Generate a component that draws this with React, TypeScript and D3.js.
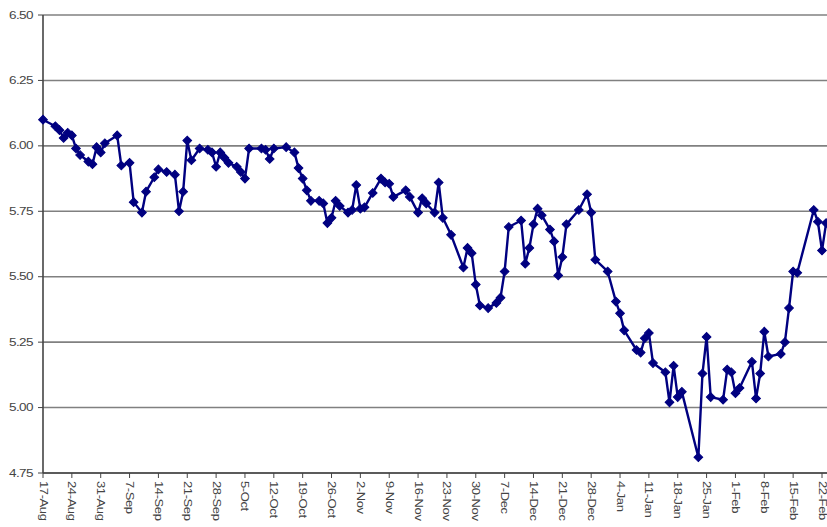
import React from "react";
import * as d3 from "d3";

// Daily observations (date, value)
const dates: string[] = [
  "2007-08-17", "2007-08-20", "2007-08-21", "2007-08-22", "2007-08-23", "2007-08-24", "2007-08-25", "2007-08-26",
  "2007-08-28", "2007-08-29", "2007-08-30", "2007-08-31", "2007-09-01", "2007-09-04", "2007-09-05", "2007-09-07",
  "2007-09-08", "2007-09-10", "2007-09-11", "2007-09-13", "2007-09-14", "2007-09-16", "2007-09-18", "2007-09-19",
  "2007-09-20", "2007-09-21", "2007-09-22", "2007-09-24", "2007-09-26", "2007-09-27", "2007-09-28", "2007-09-29",
  "2007-09-30", "2007-10-01", "2007-10-03", "2007-10-04", "2007-10-05", "2007-10-06", "2007-10-09", "2007-10-10",
  "2007-10-11", "2007-10-12", "2007-10-15", "2007-10-17", "2007-10-18", "2007-10-19", "2007-10-20", "2007-10-21",
  "2007-10-23", "2007-10-24", "2007-10-25", "2007-10-26", "2007-10-27", "2007-10-28", "2007-10-30", "2007-10-31",
  "2007-11-01", "2007-11-02", "2007-11-03", "2007-11-05", "2007-11-07", "2007-11-08", "2007-11-09", "2007-11-10",
  "2007-11-13", "2007-11-14", "2007-11-16", "2007-11-17", "2007-11-18", "2007-11-20", "2007-11-21", "2007-11-22",
  "2007-11-24", "2007-11-27", "2007-11-28", "2007-11-29", "2007-11-30", "2007-12-01", "2007-12-03", "2007-12-05",
  "2007-12-06", "2007-12-07", "2007-12-08", "2007-12-11", "2007-12-12", "2007-12-13", "2007-12-14", "2007-12-15",
  "2007-12-16", "2007-12-18", "2007-12-19", "2007-12-20", "2007-12-21", "2007-12-22", "2007-12-25", "2007-12-27",
  "2007-12-28", "2007-12-29", "2008-01-01", "2008-01-03", "2008-01-04", "2008-01-05", "2008-01-08", "2008-01-09",
  "2008-01-10", "2008-01-11", "2008-01-12", "2008-01-15", "2008-01-16", "2008-01-17", "2008-01-18", "2008-01-19",
  "2008-01-23", "2008-01-24", "2008-01-25", "2008-01-26", "2008-01-29", "2008-01-30", "2008-01-31", "2008-02-01",
  "2008-02-02", "2008-02-05", "2008-02-06", "2008-02-07", "2008-02-08", "2008-02-09", "2008-02-12", "2008-02-13",
  "2008-02-14", "2008-02-15", "2008-02-16", "2008-02-20", "2008-02-21", "2008-02-22", "2008-02-23",
];

const values: number[] = [
  6.10, 6.075, 6.06, 6.03, 6.05, 6.04, 5.99, 5.965,
  5.94, 5.93, 5.995, 5.975, 6.01, 6.04, 5.925, 5.935,
  5.785, 5.745, 5.825, 5.88, 5.91, 5.90, 5.89, 5.75,
  5.825, 6.02, 5.945, 5.99, 5.985, 5.975, 5.92, 5.975,
  5.955, 5.935, 5.92, 5.90, 5.875, 5.99, 5.99, 5.985,
  5.95, 5.99, 5.995, 5.975, 5.915, 5.875, 5.83, 5.79,
  5.79, 5.78, 5.705, 5.725, 5.79, 5.77, 5.745, 5.755,
  5.85, 5.76, 5.765, 5.82, 5.875, 5.86, 5.855, 5.805,
  5.83, 5.805, 5.745, 5.80, 5.78, 5.745, 5.86, 5.725,
  5.66, 5.535, 5.61, 5.59, 5.47, 5.39, 5.38, 5.40,
  5.42, 5.52, 5.69, 5.715, 5.55, 5.61, 5.70, 5.76,
  5.735, 5.68, 5.635, 5.505, 5.575, 5.70, 5.755, 5.815,
  5.745, 5.565, 5.52, 5.405, 5.36, 5.295, 5.22, 5.21,
  5.265, 5.285, 5.17, 5.135, 5.02, 5.16, 5.04, 5.06,
  4.81, 5.13, 5.27, 5.04, 5.03, 5.145, 5.135, 5.055,
  5.075, 5.175, 5.035, 5.13, 5.29, 5.195, 5.205, 5.25,
  5.38, 5.52, 5.515, 5.755, 5.71, 5.60, 5.705,
];

const yTicks: number[] = [4.75, 5.0, 5.25, 5.5, 5.75, 6.0, 6.25, 6.5];
const xTickDates: string[] = [
  "2007-08-17", "2007-08-24", "2007-08-31", "2007-09-07", "2007-09-14", "2007-09-21", "2007-09-28",
  "2007-10-05", "2007-10-12", "2007-10-19", "2007-10-26", "2007-11-02", "2007-11-09", "2007-11-16",
  "2007-11-23", "2007-11-30", "2007-12-07", "2007-12-14", "2007-12-21", "2007-12-28", "2008-01-04",
  "2008-01-11", "2008-01-18", "2008-01-25", "2008-02-01", "2008-02-08", "2008-02-15", "2008-02-22",
];

const W = 827;
const H = 527;
const parse = d3.timeParse("%Y-%m-%d");
const fmt = d3.timeFormat("%-d-%b");

export default function App() {
  const left = 43;
  const top = 15;
  const bottom = 473;
  const x = d3
    .scaleTime()
    .domain([parse("2007-08-17")!, parse("2008-02-22")!])
    .range([left, 822]);
  const y = d3.scaleLinear().domain([4.75, 6.5]).range([bottom, top]);

  const pts = dates.map((d, i) => ({ t: parse(d)!, v: values[i] }));
  const line = d3
    .line<{ t: Date; v: number }>()
    .x((d) => x(d.t))
    .y((d) => y(d.v));
  const marker = d3.symbol(d3.symbolSquare, 38)()!;
  const font = "'Liberation Sans', Arial, sans-serif";
  const ink = "#000080";

  return (
    <svg
      width={W}
      height={H}
      style={{ position: "absolute", left: 0, top: 0, background: "#fff" }}
    >
      {/* horizontal gridlines */}
      {yTicks.map((t) => (
        <line
          key={t}
          x1={left}
          x2={W}
          y1={y(t)}
          y2={y(t)}
          stroke="#808080"
          strokeWidth={1.6}
        />
      ))}
      {/* y axis */}
      <line x1={left} x2={left} y1={top} y2={bottom} stroke="#444" strokeWidth={1.6} />
      {yTicks.map((t) => (
        <g key={"yt" + t}>
          <line x1={left - 5} x2={left} y1={y(t)} y2={y(t)} stroke="#444" strokeWidth={1} />
          <text
            transform={`translate(${left - 10},${y(t)}) scale(1.35,1)`}
            dy="0.35em"
            textAnchor="end"
            fontFamily={font}
            fontSize={10}
            fill="#444"
            letterSpacing={-0.4}
          >
            {t.toFixed(2)}
          </text>
        </g>
      ))}
      {/* x axis */}
      <line x1={left} x2={W} y1={bottom} y2={bottom} stroke="#444" strokeWidth={1.6} />
      {xTickDates.map((s) => {
        const d = parse(s)!;
        const xx = x(d);
        return (
          <g key={s}>
            <line x1={xx} x2={xx} y1={bottom} y2={bottom + 5} stroke="#444" strokeWidth={1} />
            <text
              transform={`translate(${xx - 3.5},${bottom + 8}) rotate(90) scale(1.3,1)`}
              textAnchor="start"
              fontFamily={font}
              fontSize={10}
              fill="#444"
              letterSpacing={-0.3}
            >
              {fmt(d)}
            </text>
          </g>
        );
      })}
      {/* series */}
      <path d={line(pts)!} fill="none" stroke={ink} strokeWidth={2.4} strokeLinejoin="round" />
      {pts.map((p, i) => (
        <path
          key={i}
          d={marker}
          transform={`translate(${x(p.t)},${y(p.v)}) rotate(45)`}
          fill={ink}
          stroke={ink}
          strokeWidth={1}
        />
      ))}
    </svg>
  );
}
